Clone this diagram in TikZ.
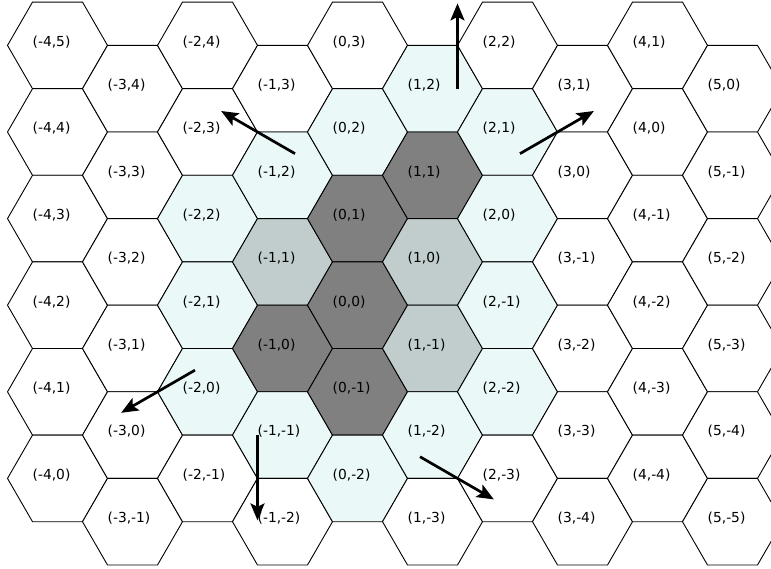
\documentclass[tikz,border=0pt]{standalone}
\usepackage{fontspec}
\setmainfont{DejaVu Sans}
\usetikzlibrary{shapes.geometric,arrows.meta,calc}

\definecolor{hexdark}{RGB}{128,128,128}
\definecolor{hexmid}{RGB}{193,205,205}
\definecolor{hexlight}{RGB}{234,248,248}

% fill colour of the coloured cells, keyed by "q,r"
\expandafter\def\csname cf 0,0\endcsname{hexdark}
\expandafter\def\csname cf 0,1\endcsname{hexdark}
\expandafter\def\csname cf 1,1\endcsname{hexdark}
\expandafter\def\csname cf -1,0\endcsname{hexdark}
\expandafter\def\csname cf 0,-1\endcsname{hexdark}
\expandafter\def\csname cf -1,1\endcsname{hexmid}
\expandafter\def\csname cf 1,0\endcsname{hexmid}
\expandafter\def\csname cf 1,-1\endcsname{hexmid}
\expandafter\def\csname cf 1,2\endcsname{hexlight}
\expandafter\def\csname cf 0,2\endcsname{hexlight}
\expandafter\def\csname cf 2,1\endcsname{hexlight}
\expandafter\def\csname cf -1,2\endcsname{hexlight}
\expandafter\def\csname cf -2,2\endcsname{hexlight}
\expandafter\def\csname cf 2,0\endcsname{hexlight}
\expandafter\def\csname cf -2,1\endcsname{hexlight}
\expandafter\def\csname cf 2,-1\endcsname{hexlight}
\expandafter\def\csname cf -2,0\endcsname{hexlight}
\expandafter\def\csname cf 2,-2\endcsname{hexlight}
\expandafter\def\csname cf -1,-1\endcsname{hexlight}
\expandafter\def\csname cf 1,-2\endcsname{hexlight}
\expandafter\def\csname cf 0,-2\endcsname{hexlight}

\tikzset{
  hexcell/.style={regular polygon, regular polygon sides=6, minimum size=100pt,
    inner sep=0pt, outer sep=0pt, draw=black, line width=0.9pt},
  celllabel/.style={anchor=base west, inner sep=0pt,
    font=\fontsize{13.8pt}{16pt}\selectfont},
  bigarrow/.style={line width=2.7pt,
    -{Stealth[length=17pt,width=14pt,inset=3.5pt]}}
}

\begin{document}
\begin{tikzpicture}[x=1pt,y=-1pt]
  \useasboundingbox (0,0) rectangle (771,569);
  \clip (0,0) rectangle (771,569);
  \fill[white] (0,0) rectangle (771,569);

  % hexagonal cells in axial coordinates (q,r), flat top
  \foreach \hq/\rtop in {-4/5,-3/4,-2/4,-1/3,0/3,1/2,2/2,3/1,4/1,5/0}{
    \foreach \k in {0,...,5}{
      \pgfmathtruncatemacro\hr{\rtop-\k}
      \pgfmathsetmacro\cx{357.5+75*\hq}
      \pgfmathsetmacro\cy{305.2-86.6*(\hr+\hq/2)}
      \ifcsname cf \hq,\hr\endcsname
        \edef\fc{\csname cf \hq,\hr\endcsname}%
      \else
        \def\fc{white}%
      \fi
      \node[hexcell, fill=\fc] (h\hq_\hr) at (\cx,\cy) {};
      \node[celllabel] (t\hq_\hr) at ($(h\hq_\hr.center)+(-25,0.8)$) {(\hq,\hr)};
    }
  }

  % six outward directions, each through a corner of the outer ring
  \coordinate (vN)  at (457.5,45.4);
  \coordinate (vNE) at (557.5,132.0);
  \coordinate (vNW) at (257.5,132.0);
  \coordinate (vSW) at (157.5,391.8);
  \coordinate (vS)  at (257.5,478.4);
  \coordinate (vSE) at (457.5,478.4);

  \draw[bigarrow] ($(vN)+(90:43.3)$)   -- ($(vN)+(-90:42)$);
  \draw[bigarrow] ($(vNE)+(150:43.3)$) -- ($(vNE)+(-30:42)$);
  \draw[bigarrow] ($(vNW)+(30:43.3)$)  -- ($(vNW)+(210:42)$);
  \draw[bigarrow] ($(vSW)+(-30:43.3)$) -- ($(vSW)+(150:42)$);
  \draw[bigarrow] ($(vS)+(-90:43.3)$)  -- ($(vS)+(90:42)$);
  \draw[bigarrow] ($(vSE)+(210:43.3)$) -- ($(vSE)+(30:42)$);
\end{tikzpicture}
\end{document}
